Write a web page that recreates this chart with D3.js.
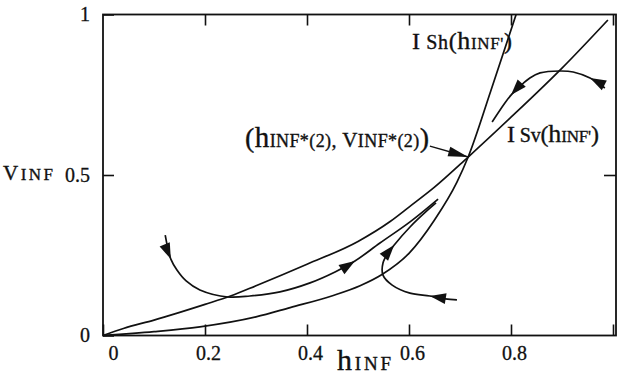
<!DOCTYPE html>
<html>
<head>
<meta charset="utf-8">
<script src="https://cdn.jsdelivr.net/npm/d3@7"></script>
<style>
  body { margin: 0; background: #fff; }
  text { font-family: "Liberation Serif", "Times New Roman", serif; fill: #111; }
</style>
</head>
<body>
<div id="chart"></div>
<script>
// nullclines (h, v)
const isvCurve = [[0,0],[0.04,0.022],[0.1,0.048],[0.2,0.097],[0.25,0.123],[0.3,0.155],[0.4,0.222],
  [0.5,0.293],[0.563,0.355],[0.6,0.4],[0.65,0.462],[0.716,0.556],[0.8,0.68],[0.9,0.833],[0.99,0.983]];
const ishCurve = [[0,0],[0.1,0.012],[0.19,0.027],[0.3,0.058],[0.367,0.087],[0.45,0.124],[0.504,0.155],
  [0.547,0.19],[0.6,0.256],[0.65,0.36],[0.694,0.478],[0.716,0.556],[0.76,0.76],[0.81,1.0]];

// trajectories, in order of motion
const trajTopRight = [[0.984,0.771],[0.955,0.802],[0.922,0.821],[0.896,0.824],[0.857,0.818],[0.837,0.802],
  [0.818,0.777],[0.8,0.749],[0.788,0.724],[0.763,0.665]];
const trajLeft = [[0.122,0.313],[0.127,0.273],[0.133,0.238],[0.145,0.204],[0.163,0.17],[0.19,0.142],
  [0.245,0.12],[0.288,0.123],[0.347,0.136],[0.406,0.164],[0.455,0.198],[0.494,0.232],[0.543,0.288],
  [0.602,0.354],[0.657,0.425]];
const trajBottom = [[0.694,0.111],[0.671,0.114],[0.641,0.123],[0.602,0.132],[0.567,0.157],[0.549,0.188],
  [0.549,0.226],[0.559,0.257],[0.571,0.282],[0.602,0.338],[0.637,0.391],[0.653,0.413]];
const trajectories = [trajTopRight, trajLeft, trajBottom];
const arrowIdx = [[1, 7], [2, 11], [2, 8]];

const fixedPoint = [0.716, 0.556];
const labelFrom = [0.641, 0.59];

const xTicks = [0, 0.2, 0.4, 0.6, 0.8, 1];
const yTicks = [0, 0.5, 1];

const width = 618, height = 375;
const svg = d3.select('#chart').append('svg').attr('width', width).attr('height', height);

const x = d3.scaleLinear().domain([0, 1]).range([103, 613]);
const y = d3.scaleLinear().domain([0, 1]).range([335.5, 14.5]);
const right = 616;

const smooth = d3.line().x(d => x(d[0])).y(d => y(d[1])).curve(d3.curveMonotoneX);
const line = d3.line().x(d => x(d[0])).y(d => y(d[1])).curve(d3.curveCatmullRom.alpha(0.5));

// frame
svg.append('rect').attr('x', x(0)).attr('y', y(1))
  .attr('width', right - x(0)).attr('height', y(0) - y(1))
  .attr('fill', 'none').attr('stroke', '#111').attr('stroke-width', 1.8);

const bottom = svg.append('g').attr('transform', `translate(0,${y(0)})`)
  .call(d3.axisBottom(x).tickValues(xTicks).tickSize(-11).tickPadding(10)
    .tickFormat(d => d === 1 ? '' : (d === 0 ? '0' : d3.format('.1f')(d))));
bottom.selectAll('text').attr('font-size', 20).attr('dx', d => d === 0 ? 10 : 3);

const left = svg.append('g').attr('transform', `translate(${x(0)},0)`)
  .call(d3.axisLeft(y).tickValues(yTicks).tickSize(-11).tickPadding(13).tickFormat(d3.format('~g')));
left.selectAll('text').attr('font-size', 20);

svg.append('g').attr('transform', `translate(0,${y(1)})`)
  .call(d3.axisTop(x).tickValues(xTicks.slice(1)).tickSize(-11).tickFormat(''));
svg.append('g').attr('transform', `translate(${right},0)`)
  .call(d3.axisRight(y).tickValues([0.5]).tickSize(-12).tickFormat(''));

svg.selectAll('.domain').remove();
svg.selectAll('.tick line').attr('stroke', '#111').attr('stroke-width', 1.6);
svg.selectAll('.tick text').attr('fill', '#111').attr('stroke', '#111').attr('stroke-width', 0.3)
  .style('font-family', '"Liberation Serif", serif');

// curves
[isvCurve, ishCurve].forEach(c => {
  svg.append('path').attr('d', smooth(c)).attr('fill', 'none')
    .attr('stroke', '#111').attr('stroke-width', 1.7);
});
trajectories.forEach(t => {
  svg.append('path').attr('d', line(t)).attr('fill', 'none')
    .attr('stroke', '#111').attr('stroke-width', 1.7);
});

function arrowHead(tip, from, len, half) {
  const dx = tip[0] - from[0], dy = tip[1] - from[1];
  const n = Math.hypot(dx, dy), ux = dx / n, uy = dy / n;
  const bx = tip[0] - ux * len, by = tip[1] - uy * len;
  return [tip, [bx - uy * half, by + ux * half], [bx + uy * half, by - ux * half]];
}

trajectories.forEach((t, k) => {
  arrowIdx[k].forEach(i => {
    const p = t[i], a = t[Math.max(i - 1, 0)], b = t[Math.min(i + 1, t.length - 1)];
    const tip = [x(p[0]), y(p[1])];
    const from = [tip[0] - (x(b[0]) - x(a[0])), tip[1] - (y(b[1]) - y(a[1]))];
    svg.append('polygon').attr('points', arrowHead(tip, from, 16, 5.5).join(' ')).attr('fill', '#111');
  });
});

// annotation arrow to fixed point
const tipP = [x(fixedPoint[0]), y(fixedPoint[1])];
const fromP = [x(labelFrom[0]), y(labelFrom[1])];
svg.append('line').attr('x1', fromP[0]).attr('y1', fromP[1]).attr('x2', tipP[0]).attr('y2', tipP[1])
  .attr('stroke', '#111').attr('stroke-width', 1.5);
svg.append('polygon').attr('points', arrowHead(tipP, fromP, 20, 5).join(' ')).attr('fill', '#111');

// labels
function label(px, py, parts, len) {
  const t = svg.append('text').attr('x', px).attr('y', py)
    .attr('stroke', '#111').attr('stroke-width', 0.35);
  parts.forEach(p => t.append('tspan').attr('font-size', p[1]).text(p[0]));
  if (len) t.attr('textLength', len).attr('lengthAdjust', 'spacing');
  return t;
}
label(245, 147, [['(', 28], ['h', 29], ['INF*(2)', 18], [', ', 20], ['V', 21], ['INF*(2)', 18], [')', 28]], 184);
label(412, 49, [['I', 24], [' Sh', 20], ['(', 24], ['h', 26], ["INF'", 17], [')', 24]], 100);
label(507, 142, [['I', 24], [' Sv', 20], ['(', 24], ['h', 26], ["INF'", 17], [')', 24]], 92);
label(337, 370, [['h', 30], ['INF', 19]], 54);
label(3, 180, [['V', 21], ['INF', 17]], 50);
</script>
</body>
</html>
